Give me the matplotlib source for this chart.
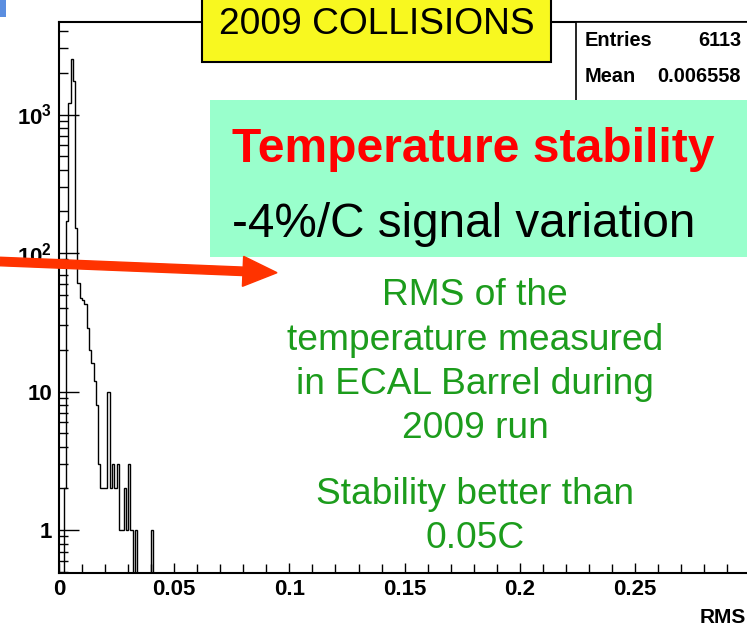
import numpy as np
import matplotlib
matplotlib.use("Agg")
import matplotlib.pyplot as plt
from matplotlib.patches import Rectangle, FancyArrow
from matplotlib.ticker import FixedLocator, FixedFormatter, MultipleLocator

plt.rcParams['font.family'] = ['Liberation Sans', 'DejaVu Sans']
plt.rcParams['font.weight'] = 'bold'
plt.rcParams['mathtext.fontset'] = 'custom'
plt.rcParams['mathtext.rm'] = 'Liberation Sans:bold'
plt.rcParams['mathtext.it'] = 'Liberation Sans:bold'
plt.rcParams['mathtext.bf'] = 'Liberation Sans:bold'

W, H = 747, 628

# RMS of crystal temperature, 1 mC bins starting at 0 (remaining bins are empty)
bin_width = 0.001
n_bins = 300
rms_counts = [0, 0, 2, 170, 1220, 2500, 1748, 151, 61, 47,
              46, 43, 29, 20, 16, 12, 8, 3, 2, 2,
              2, 10, 2, 3, 2, 3, 1, 1, 2, 1,
              3, 1, 0, 1, 0, 0, 0, 0, 0, 0,
              1]
entries = 6113
mean_rms = 0.006558

x_ticks = [0, 0.05, 0.1, 0.15, 0.2, 0.25]
x_tick_labels = ['0', '0.05', '0.1', '0.15', '0.2', '0.25']
y_ticks = [1, 10, 100, 1000]
y_tick_labels = ['1', '10', r'$10^{2}$', r'$10^{3}$']

title_box = '2009 COLLISIONS'
headline = 'Temperature stability'
subline = '-4%/C signal variation'
note_lines = ['RMS of the', 'temperature measured', 'in ECAL Barrel during', '2009 run']
note_lines2 = ['Stability better than', '0.05C']


def fx(px):
    return px / W


def fy(py):
    return 1 - py / H


fig = plt.figure(figsize=(W / 100, H / 100), dpi=100)
ax = fig.add_axes([fx(59), fy(573), fx(747 - 59), (573 - 22) / H])

counts = np.zeros(n_bins)
counts[:len(rms_counts)] = rms_counts
edges = np.arange(n_bins + 1) * bin_width
ax.stairs(counts, edges, color='black', lw=1.0)

ax.set_yscale('log')
ax.set_ylim(0.49, 4656)
ax.set_xlim(0, 0.2986)

ax.xaxis.set_major_locator(FixedLocator(x_ticks))
ax.xaxis.set_major_formatter(FixedFormatter(x_tick_labels))
ax.xaxis.set_minor_locator(MultipleLocator(0.01))
ax.yaxis.set_major_locator(FixedLocator(y_ticks))
ax.yaxis.set_major_formatter(FixedFormatter(y_tick_labels))

ax.tick_params(axis='both', which='both', direction='in', top=False, right=False,
               width=1.0, labelsize=16)
ax.tick_params(axis='x', which='major', length=7, pad=4)
ax.tick_params(axis='x', which='minor', length=6.5)
ax.tick_params(axis='y', which='major', length=14.4, pad=5)
ax.tick_params(axis='y', which='minor', length=6.5)

ax.spines['right'].set_visible(False)
for s in ('left', 'bottom', 'top'):
    ax.spines[s].set_linewidth(1.5)

fig.text(fx(746), fy(608), 'RMS', ha='right', va='top', fontsize=15, fontweight='bold')

# statistics box
fig.add_artist(Rectangle((fx(576), fy(110)), fx(200), 88 / H, transform=fig.transFigure,
                         fc='white', ec='black', lw=1.2, zorder=3))
stat_kw = dict(va='center', fontsize=14.4, fontweight='bold', zorder=4)
fig.text(fx(585), fy(40), 'Entries', ha='left', **stat_kw)
fig.text(fx(741), fy(40), f'{entries}', ha='right', **stat_kw)
fig.text(fx(585), fy(76), 'Mean', ha='left', **stat_kw)
fig.text(fx(741), fy(76), f'{mean_rms:.6f}', ha='right', **stat_kw)

# title box
fig.add_artist(Rectangle((fx(202), fy(62)), fx(551 - 202), 70 / H, transform=fig.transFigure,
                         fc='#f8f820', ec='black', lw=1.5, zorder=5))
fig.text(fx(376.5), fy(24), title_box, ha='center', va='center', fontsize=26.7,
         fontweight='normal', zorder=6)

# highlighted message
fig.add_artist(Rectangle((fx(210), fy(257)), fx(560), 157 / H, transform=fig.transFigure,
                         fc='#99ffcc', ec='none', zorder=5))
fig.text(fx(232), fy(162), headline, ha='left', va='baseline', fontsize=34.6,
         fontweight='bold', color='#ff0000', zorder=6)
fig.text(fx(232), fy(237), subline, ha='left', va='baseline', fontsize=34.3,
         fontweight='normal', color='black', zorder=6)

green = '#1c9c1c'
for i, line in enumerate(note_lines):
    fig.text(fx(475), fy(305 + 44.5 * i), line, ha='center', va='baseline', fontsize=26.7,
             fontweight='normal', color=green, zorder=6)
for i, line in enumerate(note_lines2):
    fig.text(fx(475), fy(504 + 44.5 * i), line, ha='center', va='baseline', fontsize=26.7,
             fontweight='normal', color=green, zorder=6)

# arrow pointing from the histogram to the note
fig.add_artist(FancyArrow(0, (H - 261.5) / 100, 2.77, -0.112, width=0.085,
                          head_width=0.30, head_length=0.34, length_includes_head=True,
                          color='#ff3300', transform=fig.dpi_scale_trans, zorder=7))

# slide decoration in the corner
fig.add_artist(Rectangle((0, fy(17)), fx(6), 17 / H, transform=fig.transFigure,
                         fc='#5b8ee0', ec='none', zorder=7))

fig.savefig('out.png', dpi=100)
